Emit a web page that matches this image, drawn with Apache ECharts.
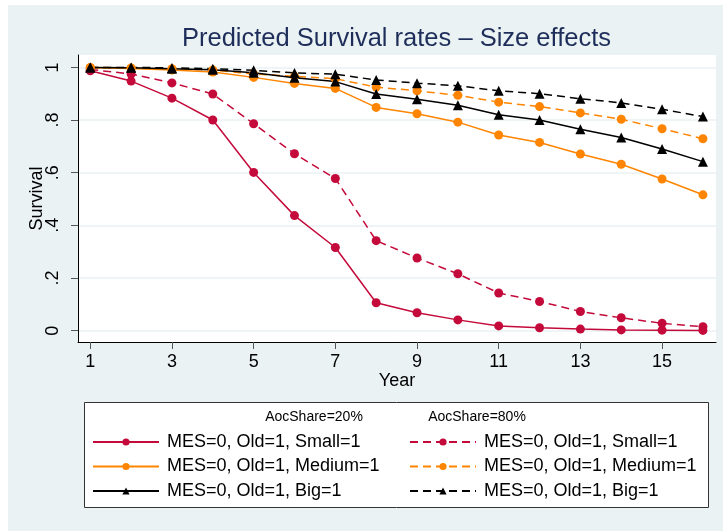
<!DOCTYPE html>
<html>
<head>
<meta charset="utf-8">
<script src="https://cdn.jsdelivr.net/npm/echarts@6/dist/echarts.min.js"></script>
<style>
  html, body { margin: 0; padding: 0; background: #fff; }
  #chart { width: 723px; height: 531px; }
</style>
</head>
<body>
<div id="chart"></div>
<script>
// Years on the horizontal axis
const years = [1, 2, 3, 4, 5, 6, 7, 8, 9, 10, 11, 12, 13, 14, 15, 16];
const xTicks = [1, 3, 5, 7, 9, 11, 13, 15];
const yTicks = [0, 0.2, 0.4, 0.6, 0.8, 1];
const yTickLabels = ['0', '.2', '.4', '.6', '.8', '1'];

// Predicted survival, AocShare = 20%
const small20  = [0.987, 0.948, 0.883, 0.800, 0.601, 0.437, 0.316, 0.106, 0.068, 0.041, 0.018, 0.011, 0.006, 0.003, 0.002, 0.001];
const medium20 = [0.999, 0.996, 0.990, 0.982, 0.962, 0.939, 0.920, 0.848, 0.824, 0.792, 0.743, 0.715, 0.671, 0.632, 0.576, 0.516];
const big20    = [1.000, 0.999, 0.995, 0.991, 0.980, 0.961, 0.946, 0.899, 0.879, 0.856, 0.820, 0.800, 0.765, 0.734, 0.690, 0.642];

// Predicted survival, AocShare = 80%
const small80  = [0.992, 0.975, 0.941, 0.899, 0.786, 0.672, 0.578, 0.342, 0.276, 0.216, 0.143, 0.111, 0.073, 0.049, 0.028, 0.015];
const medium80 = [1.000, 0.998, 0.995, 0.990, 0.975, 0.966, 0.957, 0.925, 0.911, 0.894, 0.868, 0.851, 0.827, 0.803, 0.767, 0.729];
const big80    = [1.000, 1.000, 0.998, 0.995, 0.989, 0.979, 0.974, 0.952, 0.940, 0.930, 0.911, 0.900, 0.881, 0.865, 0.841, 0.813];

const labels = {
  s20: 'MES=0, Old=1, Small=1',
  m20: 'MES=0, Old=1, Medium=1',
  b20: 'MES=0, Old=1, Big=1',
  s80: 'MES=0, Old=1, Small=1',
  m80: 'MES=0, Old=1, Medium=1',
  b80: 'MES=0, Old=1, Big=1'
};

const RED = '#C40A3A';
const ORANGE = '#FF8500';
const BLACK = '#000000';
const DASH = [8, 5];
const FONT = '"Liberation Sans", Arial, sans-serif';

function pairs(vals) {
  return years.map((y, i) => [y, vals[i]]);
}

function lineSeries(key, vals, color, symbol, dashed, size) {
  return {
    name: key,
    type: 'line',
    data: pairs(vals),
    symbol: symbol,
    symbolSize: size,
    showAllSymbol: true,
    lineStyle: { color: color, width: 1.5, type: dashed ? DASH : 'solid' },
    itemStyle: { color: color, borderWidth: 0 },
    emphasis: { disabled: true }
  };
}

const chart = echarts.init(document.getElementById('chart'), null, { renderer: 'canvas' });

const legendCommon = {
  orient: 'vertical',
  top: 428,
  itemWidth: 66,
  itemHeight: 9,
  itemGap: 6.5,
  selectedMode: false,
  formatter: name => labels[name],
  textStyle: { fontSize: 18, color: '#000', fontFamily: FONT, padding: [0, 0, 0, 3] }
};

chart.setOption({
  animation: false,
  backgroundColor: '#ffffff',
  textStyle: { fontFamily: FONT },
  graphic: [
    { type: 'rect', z: -10, silent: true, shape: { x: 8, y: 5, width: 715, height: 526 }, style: { fill: '#EAF2F3' } },
    { type: 'rect', z: 0, silent: true, shape: { x: 84.5, y: 402.5, width: 624, height: 105 }, style: { fill: '#ffffff', stroke: '#333333', lineWidth: 1 } },
    { type: 'text', z: 5, silent: true, x: 314, y: 417, style: { text: 'AocShare=20%', font: '14px ' + FONT, fill: '#000', align: 'center', verticalAlign: 'middle' } },
    { type: 'text', z: 5, silent: true, x: 477, y: 417, style: { text: 'AocShare=80%', font: '14px ' + FONT, fill: '#000', align: 'center', verticalAlign: 'middle' } }
  ],
  title: {
    text: 'Predicted Survival rates \u2013 Size effects',
    left: 391.5,
    textAlign: 'center',
    top: 21,
    textStyle: { fontSize: 25.5, fontWeight: 'normal', color: '#1E2D5A', fontFamily: FONT }
  },
  legend: [
    Object.assign({ left: 87, data: ['s20', 'm20', 'b20'] }, legendCommon),
    Object.assign({ left: 404, data: ['s80', 'm80', 'b80'] }, legendCommon)
  ],
  grid: {
    left: 78, right: 7, top: 55, bottom: 189,
    show: true, backgroundColor: '#ffffff', borderWidth: 0
  },
  xAxis: {
    type: 'value',
    min: 0.7, max: 16.32,
    name: 'Year',
    nameLocation: 'middle',
    nameGap: 30,
    nameMoveOverlap: false,
    nameTextStyle: { fontSize: 18, color: '#000', fontFamily: FONT },
    axisLine: { onZero: false, lineStyle: { color: '#000', width: 1 } },
    axisTick: { customValues: xTicks, length: 7, lineStyle: { color: '#555', width: 1 } },
    axisLabel: { customValues: xTicks, margin: 11, fontSize: 18, color: '#000', fontFamily: FONT },
    splitLine: { show: false }
  },
  yAxis: {
    type: 'value',
    min: -0.043, max: 1.047,
    name: 'Survival',
    nameLocation: 'middle',
    nameRotate: 90,
    nameGap: 32,
    nameMoveOverlap: false,
    nameTextStyle: { fontSize: 18, color: '#000', fontFamily: FONT },
    axisLine: { show: true, onZero: false, lineStyle: { color: '#000', width: 1 } },
    axisTick: { show: true, customValues: yTicks, length: 7, lineStyle: { color: '#555', width: 1 } },
    axisLabel: {
      customValues: yTicks, rotate: 90, margin: 16, fontSize: 18, color: '#000', fontFamily: FONT,
      formatter: v => yTickLabels[yTicks.findIndex(t => Math.abs(t - v) < 1e-6)]
    },
    splitLine: { show: true, lineStyle: { color: '#EAF2F3', width: 1.5 } }
  },
  series: [
    lineSeries('s20', small20, RED, 'circle', false, 9),
    lineSeries('s80', small80, RED, 'circle', true, 9),
    lineSeries('m20', medium20, ORANGE, 'circle', false, 9),
    lineSeries('m80', medium80, ORANGE, 'circle', true, 9),
    lineSeries('b20', big20, BLACK, 'triangle', false, 10),
    lineSeries('b80', big80, BLACK, 'triangle', true, 10)
  ]
});
</script>
</body>
</html>
